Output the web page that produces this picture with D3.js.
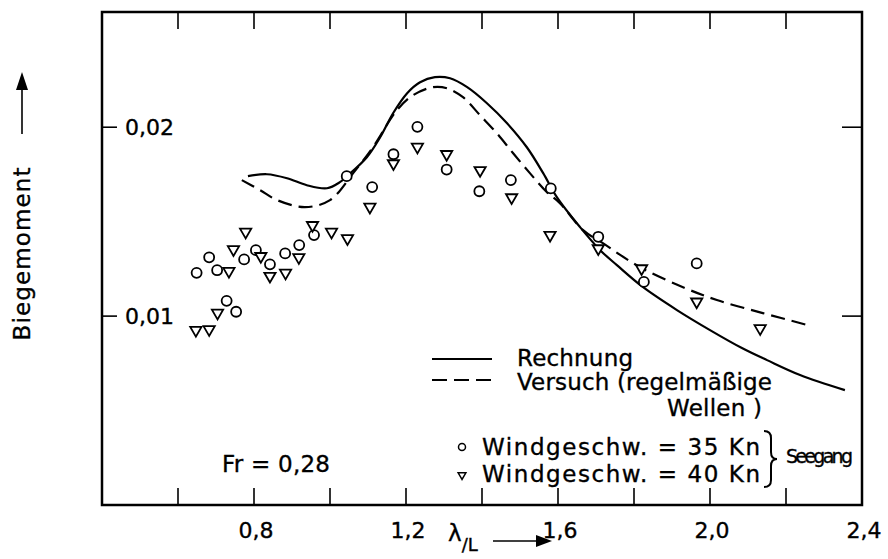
<!DOCTYPE html>
<html>
<head>
<meta charset="utf-8">
<script src="https://cdnjs.cloudflare.com/ajax/libs/d3/7.8.5/d3.min.js"></script>
<style>
body { margin:0; background:#fff; }
text { font-family: "DejaVu Sans", sans-serif; fill:#000; stroke:#000; stroke-width:0.35px; }
</style>
</head>
<body>
<div id="vis"></div>
<script>
// Data
var calcX = [0.784,0.834,0.887,0.939,0.992,1.026,1.045,1.097,1.132,1.166,1.203,1.237,1.276,1.316,1.361,1.413,1.466,1.518,1.561,1.597,1.658,1.711,1.755,1.824,1.913,2.000,2.084,2.150,2.237,2.355];
var calcY = [0.01741,0.01751,0.01730,0.01693,0.01677,0.01709,0.01741,0.01841,0.01947,0.02074,0.02180,0.02238,0.02265,0.02259,0.02212,0.02127,0.02021,0.01894,0.01757,0.01630,0.01471,0.01349,0.01270,0.01153,0.01032,0.00926,0.00831,0.00767,0.00688,0.00608];

var expX = [0.768,0.816,0.861,0.934,1.000,1.061,1.113,1.176,1.218,1.271,1.308,1.350,1.395,1.439,1.482,1.526,1.571,1.605,1.666,1.718,1.816,1.929,2.018,2.139,2.258];
var expY = [0.01720,0.01667,0.01614,0.01577,0.01614,0.01757,0.01894,0.02090,0.02169,0.02212,0.02206,0.02159,0.02063,0.01968,0.01862,0.01757,0.01656,0.01598,0.01455,0.01386,0.01259,0.01153,0.01085,0.01016,0.00952];

var kn35X = [0.649,0.682,0.703,0.728,0.753,0.774,0.805,0.842,0.882,0.919,0.958,1.044,1.111,1.167,1.230,1.307,1.393,1.476,1.581,1.706,1.826,1.965];
var kn35Y = [0.01229,0.01311,0.01243,0.01081,0.01023,0.01300,0.01349,0.01274,0.01332,0.01376,0.01429,0.01741,0.01683,0.01857,0.02002,0.01776,0.01661,0.01720,0.01676,0.01420,0.01181,0.01279];

var kn40X = [0.647,0.682,0.704,0.734,0.746,0.778,0.818,0.842,0.883,0.918,0.954,1.004,1.046,1.105,1.167,1.230,1.307,1.395,1.478,1.579,1.706,1.820,1.965,2.132];
var kn40Y = [0.00926,0.00930,0.01017,0.01238,0.01353,0.01446,0.01317,0.01212,0.01229,0.01311,0.01481,0.01446,0.01411,0.01578,0.01808,0.01896,0.01857,0.01772,0.01628,0.01429,0.01358,0.01252,0.01076,0.00935];

var xMinor = [0.6,0.8,1.0,1.2,1.4,1.6,1.8,2.0,2.2];
var xLabels = [0.8,1.2,1.6,2.0,2.4];
var yLabels = [0.01,0.02];

// Layout
var W = 888, H = 559;
var frame = {left:102, right:862, top:12, bottom:505};

var svg = d3.select("#vis").append("svg")
	.attr("width", W).attr("height", H);

var x = d3.scaleLinear().domain([0.4, 2.4]).range([frame.left, frame.right]);
var y = d3.scaleLinear().domain([0, 0.0261]).range([frame.bottom, frame.top]);

var fmt = d3.formatLocale({decimal:",", thousands:".", grouping:[3], currency:["",""]});
var fx = fmt.format(".1f"), fy = fmt.format(".2f");

//// frame ////
svg.append("rect")
	.attr("x", frame.left).attr("y", frame.top)
	.attr("width", frame.right - frame.left)
	.attr("height", frame.bottom - frame.top)
	.attr("fill", "none").attr("stroke", "#000").attr("stroke-width", 2.5);

// ticks on top and bottom
svg.selectAll(".tb").data(xMinor).enter().append("line")
	.attr("x1", x).attr("x2", x)
	.attr("y1", frame.bottom).attr("y2", frame.bottom - 17)
	.attr("stroke", "#000").attr("stroke-width", 1.6);
svg.selectAll(".tt").data(xMinor).enter().append("line")
	.attr("x1", x).attr("x2", x)
	.attr("y1", frame.top).attr("y2", frame.top + 17)
	.attr("stroke", "#000").attr("stroke-width", 1.6);

// ticks left and right
svg.selectAll(".tl").data(yLabels).enter().append("line")
	.attr("x1", frame.left).attr("x2", frame.left + 15)
	.attr("y1", y).attr("y2", y)
	.attr("stroke", "#000").attr("stroke-width", 1.6);
svg.selectAll(".tr").data(yLabels).enter().append("line")
	.attr("x1", frame.right).attr("x2", frame.right - 20)
	.attr("y1", y).attr("y2", y)
	.attr("stroke", "#000").attr("stroke-width", 1.6);

// tick labels
svg.selectAll(".xl").data(xLabels).enter().append("text")
	.attr("x", function(d) {return x(d) + 2;})
	.attr("y", 538)
	.attr("text-anchor", "middle")
	.style("font-size", "22px")
	.text(function(d) {return fx(d);});

svg.selectAll(".yl").data(yLabels).enter().append("text")
	.attr("x", 125)
	.attr("y", function(d) {return y(d) + 8;})
	.style("font-size", "22px")
	.text(function(d) {return fy(d);});

//// axis titles ////
var xt = svg.append("text").attr("x", 448).attr("y", 541).style("font-size", "23px");
xt.append("tspan").text("λ");
xt.append("tspan").attr("dy", 10).style("font-size", "18px").text("/L");

svg.append("line")
	.attr("x1", 493).attr("x2", 538).attr("y1", 541).attr("y2", 541)
	.attr("stroke", "#000").attr("stroke-width", 1.6);
svg.append("path")
	.attr("d", "M536,535L552,541L536,547Z").attr("fill", "#000");

svg.append("text")
	.attr("transform", "translate(30,254) rotate(-90)")
	.attr("text-anchor", "middle")
	.style("font-size", "23px")
	.attr("textLength", 173)
	.text("Biegemoment");
svg.append("line")
	.attr("x1", 22).attr("x2", 22).attr("y1", 134).attr("y2", 88)
	.attr("stroke", "#000").attr("stroke-width", 1.6);
svg.append("path")
	.attr("d", "M16,90L22,72L28,90Z").attr("fill", "#000");

//// curves ////
var line = d3.line()
	.x(function(d) {return x(d[0]);})
	.y(function(d) {return y(d[1]);})
	.curve(d3.curveCatmullRom);

svg.append("path")
	.datum(d3.zip(calcX, calcY))
	.attr("d", line)
	.attr("fill", "none").attr("stroke", "#000").attr("stroke-width", 2.2);

svg.append("path")
	.datum(d3.zip(expX, expY))
	.attr("d", line)
	.attr("fill", "none").attr("stroke", "#000").attr("stroke-width", 2.2)
	.attr("stroke-dasharray", "14,7");

//// scatter ////
svg.selectAll(".c35").data(d3.zip(kn35X, kn35Y)).enter().append("circle")
	.attr("cx", function(d) {return x(d[0]);})
	.attr("cy", function(d) {return y(d[1]);})
	.attr("r", 5)
	.attr("fill", "#fff").attr("stroke", "#000").attr("stroke-width", 1.8);

var tri = d3.symbol().type(d3.symbolTriangle).size(55);
svg.selectAll(".t40").data(d3.zip(kn40X, kn40Y)).enter().append("path")
	.attr("d", tri)
	.attr("transform", function(d) {return "translate(" + x(d[0]) + "," + y(d[1]) + ") rotate(180)";})
	.attr("fill", "#fff").attr("stroke", "#000").attr("stroke-width", 1.8);

//// legend ////
svg.append("line")
	.attr("x1", 432).attr("x2", 492).attr("y1", 359).attr("y2", 359)
	.attr("stroke", "#000").attr("stroke-width", 2);
svg.append("line")
	.attr("x1", 432).attr("x2", 492).attr("y1", 380).attr("y2", 380)
	.attr("stroke", "#000").attr("stroke-width", 2)
	.attr("stroke-dasharray", "15,7");

svg.append("text").attr("x", 517).attr("y", 366).style("font-size", "23px")
	.attr("textLength", 116).text("Rechnung");
svg.append("text").attr("x", 517).attr("y", 390).style("font-size", "23px")
	.attr("textLength", 255).text("Versuch (regelmäßige");
svg.append("text").attr("x", 667).attr("y", 416).style("font-size", "23px")
	.attr("textLength", 95).text("Wellen )");

svg.append("circle").attr("cx", 462).attr("cy", 447).attr("r", 3.5)
	.attr("fill", "none").attr("stroke", "#000").attr("stroke-width", 1.5);
svg.append("path").attr("d", d3.symbol().type(d3.symbolTriangle).size(26))
	.attr("transform", "translate(462,475) rotate(180)")
	.attr("fill", "none").attr("stroke", "#000").attr("stroke-width", 1.5);

svg.append("text").attr("x", 482).attr("y", 455).style("font-size", "23px")
	.attr("textLength", 278).text("Windgeschw. = 35 Kn");
svg.append("text").attr("x", 482).attr("y", 482).style("font-size", "23px")
	.attr("textLength", 278).text("Windgeschw. = 40 Kn");

// brace
svg.append("path")
	.attr("d", "M764,431 Q771,431 771,438 L771,452 Q771,459 777,459 Q771,459 771,466 L771,480 Q771,487 764,487")
	.attr("fill", "none").attr("stroke", "#000").attr("stroke-width", 2);

svg.append("text").attr("x", 786).attr("y", 463).style("font-size", "19px")
	.attr("textLength", 67).text("Seegang");

svg.append("text").attr("x", 222).attr("y", 472).style("font-size", "23px")
	.attr("textLength", 108).text("Fr = 0,28");
</script>
</body>
</html>
